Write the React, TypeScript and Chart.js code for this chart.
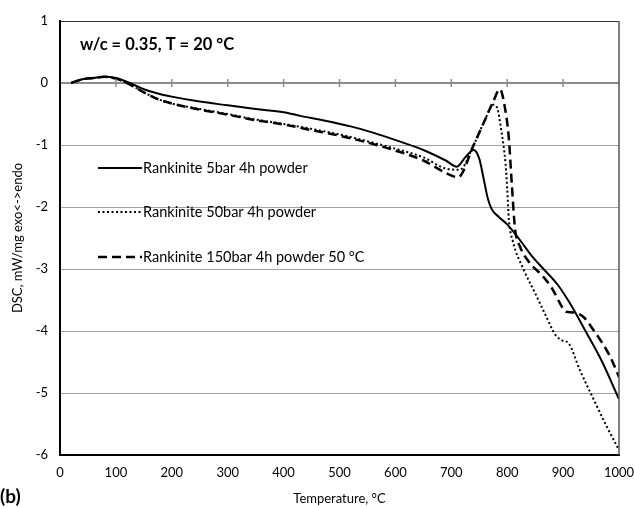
import React, { useEffect, useRef } from "react";
import { Chart, registerables } from "chart.js";

Chart.register(...registerables);

const solidT = [20, 40, 60, 80, 100, 125, 150, 175, 200, 250, 300, 350, 400, 430, 470, 520, 560, 610, 650, 690, 710, 725, 740, 750, 758, 765, 772, 785, 800, 820, 845, 865, 890, 912, 940, 970, 1000];
const solidV = [0, 0.06, 0.08, 0.1, 0.08, 0.0, -0.1, -0.17, -0.22, -0.3, -0.36, -0.42, -0.47, -0.53, -0.6, -0.7, -0.8, -0.95, -1.08, -1.25, -1.35, -1.2, -1.08, -1.22, -1.55, -1.85, -2.03, -2.16, -2.28, -2.5, -2.8, -3.0, -3.25, -3.55, -4.0, -4.5, -5.1];

const dottedT = [20, 40, 60, 80, 100, 120, 150, 175, 200, 250, 300, 350, 400, 450, 500, 550, 600, 650, 690, 715, 740, 760, 775, 782, 790, 797, 800, 803, 810, 830, 850, 870, 886, 898, 910, 930, 955, 978, 1000];
const dottedV = [0, 0.06, 0.08, 0.1, 0.07, 0.0, -0.15, -0.26, -0.33, -0.42, -0.5, -0.59, -0.66, -0.74, -0.83, -0.94, -1.06, -1.2, -1.38, -1.4, -1.0, -0.6, -0.35, -0.4, -0.8, -1.3, -1.7, -2.2, -2.55, -3.02, -3.39, -3.77, -4.06, -4.15, -4.2, -4.63, -5.11, -5.54, -5.92];

const dashedT = [20, 40, 60, 80, 100, 120, 150, 175, 200, 250, 300, 350, 400, 450, 500, 550, 600, 650, 690, 712, 740, 760, 775, 787, 795, 803, 808, 814, 823, 841, 862, 880, 898, 905, 918, 936, 954, 984, 1000];
const dashedV = [0, 0.06, 0.08, 0.1, 0.07, 0.0, -0.15, -0.26, -0.33, -0.43, -0.51, -0.6, -0.67, -0.76, -0.85, -0.96, -1.09, -1.25, -1.45, -1.52, -1.0, -0.6, -0.3, -0.1, -0.35, -0.9, -1.6, -2.35, -2.64, -2.91, -3.1, -3.31, -3.61, -3.69, -3.7, -3.77, -3.98, -4.41, -4.74];

const seriesNames = ["Rankinite 5bar 4h powder", "Rankinite 50bar 4h powder", "Rankinite 150bar 4h powder 50 °C"];
const seriesDash = [[], [2, 2.5], [9, 5]];
const seriesWidth = [2, 2, 2.5];

const xTitle = "Temperature, °C";
const yTitle = "DSC, mW/mg exo<->endo";
const chartTitle = "w/c = 0.35, T = 20 °C";
const panelLabel = "(b)";

const FONT = "Lato, 'Open Sans', sans-serif";

const zip = (t: number[], v: number[]) => t.map((x, i) => ({ x, y: v[i] }));

export default function App() {
  const ref = useRef<HTMLCanvasElement | null>(null);
  useEffect(() => {
    if (!ref.current) return;
    const overlay = {
      id: "overlay",
      afterDatasetsDraw(chart: any) {
        const { ctx, chartArea, scales } = chart;
        const xs = scales.x;
        const ys = scales.y;
        ctx.save();
        // right border
        ctx.strokeStyle = "#555";
        ctx.lineWidth = 1.5;
        ctx.beginPath();
        ctx.moveTo(chartArea.right, chartArea.top);
        ctx.lineTo(chartArea.right, chartArea.bottom);
        ctx.stroke();
        // ticks on zero line
        const y0 = ys.getPixelForValue(0);
        ctx.strokeStyle = "#8c8c8c";
        ctx.lineWidth = 1.5;
        for (let t = 100; t < 1000; t += 100) {
          const px = xs.getPixelForValue(t);
          ctx.beginPath();
          ctx.moveTo(px, y0 - 4);
          ctx.lineTo(px, y0 + 4);
          ctx.stroke();
        }
        // title
        ctx.fillStyle = "#000";
        ctx.font = `bold 16.5px ${FONT}`;
        ctx.textBaseline = "middle";
        ctx.textAlign = "left";
        ctx.fillText(chartTitle, chartArea.left + 20, chartArea.top + 24);
        // legend
        const lx0 = chartArea.left + 38;
        const lx1 = chartArea.left + 82;
        const rows = [chartArea.top + 147, chartArea.top + 191, chartArea.top + 236];
        seriesNames.forEach((name, i) => {
          ctx.strokeStyle = "#000";
          ctx.lineWidth = seriesWidth[i];
          ctx.setLineDash(seriesDash[i]);
          ctx.beginPath();
          ctx.moveTo(lx0, rows[i]);
          ctx.lineTo(lx1, rows[i]);
          ctx.stroke();
          ctx.setLineDash([]);
          ctx.font = `14.5px ${FONT}`;
          ctx.fillStyle = "#000";
          ctx.fillText(name, lx1 + 1, rows[i]);
        });
        // panel label
        ctx.font = `bold 19px ${FONT}`;
        ctx.fillText(panelLabel, 0, chart.height - 10);
        ctx.restore();
      },
    };
    const chart = new Chart(ref.current, {
      type: "line",
      data: {
        datasets: [
          { label: seriesNames[0], data: zip(solidT, solidV), borderColor: "#000", borderWidth: seriesWidth[0], borderDash: seriesDash[0], pointRadius: 0, cubicInterpolationMode: "monotone", fill: false },
          { label: seriesNames[1], data: zip(dottedT, dottedV), borderColor: "#000", borderWidth: seriesWidth[1], borderDash: seriesDash[1], pointRadius: 0, cubicInterpolationMode: "monotone", fill: false },
          { label: seriesNames[2], data: zip(dashedT, dashedV), borderColor: "#000", borderWidth: seriesWidth[2], borderDash: seriesDash[2], pointRadius: 0, cubicInterpolationMode: "monotone", fill: false },
        ],
      },
      options: {
        animation: false,
        responsive: true,
        maintainAspectRatio: false,
        layout: { padding: { left: 0, right: 15, top: 21, bottom: 0 } },
        plugins: { legend: { display: false }, tooltip: { enabled: false } },
        scales: {
          x: {
            type: "linear",
            min: 0,
            max: 1000,
            ticks: { stepSize: 100, color: "#000", font: { family: FONT, size: 13 }, padding: 10, maxRotation: 0, callback: (v: any) => String(v) },
            grid: { display: false, drawTicks: false },
            border: { display: true, color: "#000", width: 2 },
            title: { display: true, text: xTitle, color: "#000", font: { family: FONT, size: 13 }, padding: { top: 4, bottom: 0 } },
            afterFit: (s: any) => { s.height = 52; s.paddingLeft = 0; s.paddingRight = 0; },
          },
          y: {
            min: -6,
            max: 1,
            ticks: { stepSize: 1, color: "#000", font: { family: FONT, size: 13 }, padding: 12, callback: (v: any) => String(v) },
            grid: {
              drawTicks: false,
              color: (c: any) => (c.tick && c.tick.value === 1 ? "#333" : c.tick && c.tick.value === 0 ? "#8c8c8c" : c.tick && c.tick.value === -6 ? "#000" : "#a0a0a0"),
              lineWidth: (c: any) => (c.tick && (c.tick.value === 0 || c.tick.value === -6) ? 2 : 1),
            },
            border: { display: true, color: "#000", width: 2 },
            title: { display: true, text: yTitle, color: "#000", font: { family: FONT, size: 13 }, padding: { top: 10, bottom: 4 } },
            afterFit: (s: any) => { s.width = 60; s.paddingTop = 0; s.paddingBottom = 0; },
          },
        },
      },
      plugins: [overlay],
    } as any);
    return () => chart.destroy();
  }, []);
  return (
    <div style={{ position: "absolute", left: 0, top: 0, width: 634, height: 507, background: "#fff" }}>
      <canvas ref={ref} />
    </div>
  );
}
